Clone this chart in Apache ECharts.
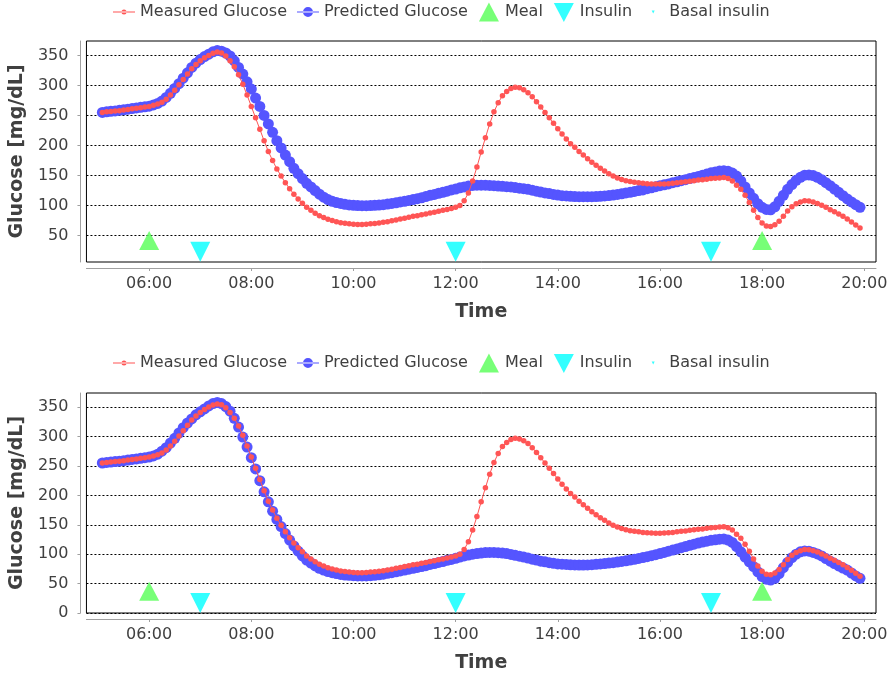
<!DOCTYPE html>
<html><head><meta charset="utf-8">
<script src="https://cdn.jsdelivr.net/npm/echarts@6/dist/echarts.min.js"></script>
<style>html,body{margin:0;padding:0;background:#fff}#c{width:893px;height:681px}</style>
</head><body><div id="c"></div>
<script>
// sampling grid of the glucose traces: 05:05 .. 19:55 every 5 minutes
const sampleStart = 5 + 5 / 60;
const sampleStepMin = 5;

const measured = [
  255,256,256.5,257.5,258,259,260,261,262,263,264,
  265,267,269,272,277,284,292,301,310,319,328,335,
  341,346,350,353.5,355.5,354,349,341,331,318,302,284,
  265,246,227,208,190,175,161,149,138,128,119,111,
  104,97,92,87,83,80,77,75,73,71.5,70.5,69.5,
  69,68.5,68.5,69,69.5,70,71,72,73,74.5,76,77.5,
  79,80.5,82,83,84.5,86,87.5,89,90.5,92,93.5,95,
  97,100,108,121,141,164,189,213,236,256,271,283,
  290,295,297,296,293,288,281,273,264,255,246,237,
  228,219,211,203,197,190,184,178,172,167,162,157.5,
  153,149,146,143.5,141.5,140,139,138,137,136.5,136,135.7,
  135.7,136,136.5,137,138,139,139.5,140.5,141.5,142.5,143,144,
  145,145.5,146,146.5,145,141,134,127,117,105,92,80,
  71,66,65,68,74,82,91,98,103,106,108,107.5,
  106,103.5,100.5,97,93,89.5,86,82,77.5,72.5,67.5,62.5
];
const predictedTop = [
  255,256,257,257.5,258.5,259.5,260.5,261.5,262.5,263.5,264.5,
  265.5,267.5,270,274,280,287,295,303,312,321,330,337,
  343,348,352,356,358,357,354,349,341,330,319,306,
  294,279,265,250,236,222,208,196,184,173,162,153,
  145,137,131,125,119,114,110,107,105,103.5,102,101,
  100.5,100,99.7,99.7,100,100.3,100.8,101.5,102.5,103.5,104.5,106,
  107,108.5,110,111.5,113,115,117,118.6,120.5,122,124,126,
  127.5,129.5,131,132.5,133.5,134,134,134,133.5,133,132.5,132,
  131.5,131,130,129,128,127,125.5,124,122.5,121,120,118.5,
  117.5,116.5,116,115.5,115,114.7,114.7,114.7,114.7,115,115.5,116,
  116.7,117.5,118.5,119.5,121,122,123.5,125,126,128,129.5,131.5,
  133,134.5,136,138,139.5,141.5,143,145,146.5,148.5,150.5,152.5,
  154.5,156,157.5,158,157,154,149,141,131,121,112,103,
  97,93.5,93,98,107,117,127,135,142,147,150.5,151,
  150,147,143,138,133,127.5,122,116.5,111,106,101.5,97
];
const predictedBottom = [
  255,256,256.5,257.5,258,259,260,261,262,263,264,
  265,267,270,275,281,289,297,306,315,323,330,337,
  342,347,352,356,358,356,351,343,331,316,299,282,
  264,245,225,206,189,173,159,147,135,124,114,105,
  97,90,85,80,76,73,70.5,68.5,67,65.5,64.5,64,
  63.5,63,63,63,63.5,64,65,66,67.5,68.5,70,71.5,
  73,74.5,76,77.5,79,80.5,82.5,84,86,87.5,89.5,91,
  93,95,97,98.5,100,101,102,102.7,103,103,102.5,101.8,
  101,99.5,98,96.5,95,93.5,91.5,90,88,87,85.5,84.5,
  83.5,83,82.5,82,81.7,81.6,81.6,81.8,82.2,82.8,83.4,84,
  84.8,85.6,86.6,87.7,88.8,90,91.3,92.7,94.2,95.8,97.5,99.2,
  101,103,105,107,109,111,113,115,117,119,120.5,122,
  123.5,124.5,125.5,126,124,120,113,104,95,87,79,70,
  62,57.5,56,59,67,77,86,94,100,104,105.5,105,
  103,100.5,97,92.5,88,84,80,76.5,73,68,63,59
];

const mealTimes = [6, 18];
const mealLevelTop = [42, 42];
const mealLevelBottom = [37, 37];
const insulinTimes = [7, 12, 17];
const insulinLevelTop = [23, 23, 23];
const insulinLevelBottom = [17, 17, 17];
const basalTimes = [];
const basalLevels = [];

const xTicks = [6, 8, 10, 12, 14, 16, 18, 20];
const yTicksTop = [50, 100, 150, 200, 250, 300, 350];
const yTicksBottom = [0, 50, 100, 150, 200, 250, 300, 350];

const seriesNames = ['Measured Glucose', 'Predicted Glucose', 'Meal', 'Insulin', 'Basal insulin'];

const FONT = 'DejaVu Sans';
const RED = '#ff5555', BLUE = '#5555ff', GREEN = '#55ff55', CYAN = '#00ffff';
const AXIS_GRAY = '#a0a0a0', TXT = '#404040';

function hhmm(h) {
  const hr = Math.floor(h + 1e-9), mn = Math.round((h - hr) * 60);
  return String(hr).padStart(2, '0') + ':' + String(mn).padStart(2, '0');
}
function timeSeries(vals) {
  return vals.map((v, i) => [sampleStart + i * sampleStepMin / 60, v]);
}
function pairs(xs, ys) { return xs.map((x, i) => [x, ys[i]]); }

const TRI_UP = 'path://M10,0L20,19L0,19z';
const TRI_DOWN = 'path://M0,0L20,0L10,20z';

function legendFor(top) {
  return {
    top: top, left: 113, padding: 0, itemGap: 10, itemWidth: 22, itemHeight: 20,
    textStyle: { fontSize: 16, fontFamily: FONT, color: TXT },
    selectedMode: false,
    data: [
      { name: seriesNames[0], icon: 'path://M0,0M22,20M0,9.5h22v1h-22zM8.5,10a2.5,2.5 0 1,0 5,0a2.5,2.5 0 1,0 -5,0z' },
      { name: seriesNames[1], icon: 'path://M0,0M22,20M0,9.5h22v1h-22zM6,10a5,5 0 1,0 10,0a5,5 0 1,0 -10,0z' },
      { name: seriesNames[2], icon: 'path://M0,0M22,20M11,0.5L21,19.5L1,19.5z' },
      { name: seriesNames[3], icon: 'path://M0,0M22,20M1,1L21,1L11,20z' },
      { name: seriesNames[4], icon: 'path://M0,0M22,20M9.5,8.5L12.5,8.5L11,11.5z' }
    ]
  };
}

function xAxisFor(idx) {
  return {
    gridIndex: idx, type: 'value', min: 4.772, max: 20.23, splitNumber: 8, offset: 6,
    axisLine: { show: true, onZero: false, lineStyle: { color: AXIS_GRAY, width: 1 } },
    axisTick: { show: true, length: 3, customValues: xTicks, lineStyle: { color: AXIS_GRAY } },
    axisLabel: { customValues: xTicks, showMinLabel: true, showMaxLabel: true, formatter: hhmm,
      color: TXT, fontSize: 16, fontFamily: FONT, margin: 8 },
    splitLine: { show: false },
    name: 'Time', nameLocation: 'middle', nameGap: 35,
    nameTextStyle: { fontSize: 19, fontWeight: 'bold', fontFamily: FONT, color: TXT }
  };
}
function yAxisFor(idx, min, ticks) {
  return {
    gridIndex: idx, type: 'value', min: min, max: 374, splitNumber: 7, offset: 6,
    axisLine: { show: true, onZero: false, lineStyle: { color: AXIS_GRAY, width: 1 } },
    axisTick: { show: true, length: 3, customValues: ticks, lineStyle: { color: AXIS_GRAY } },
    axisLabel: { customValues: ticks, showMinLabel: true, showMaxLabel: true,
      color: TXT, fontSize: 16, fontFamily: FONT, margin: 12 },
    splitLine: { show: true, lineStyle: { color: '#000', width: 1, type: [2, 2] } },
    name: 'Glucose [mg/dL]', nameLocation: 'middle', nameGap: 48, nameRotate: 90,
    nameTextStyle: { fontSize: 19, fontWeight: 'bold', fontFamily: FONT, color: TXT }
  };
}
function seriesFor(idx, predicted, mealLv, insLv) {
  return [
    { name: seriesNames[1], type: 'line', xAxisIndex: idx, yAxisIndex: idx, data: timeSeries(predicted),
      symbol: 'circle', symbolSize: 11, showSymbol: true, showAllSymbol: true,
      itemStyle: { color: BLUE, borderWidth: 0 }, lineStyle: { color: BLUE, width: 1 }, z: 2 },
    { name: seriesNames[0], type: 'line', xAxisIndex: idx, yAxisIndex: idx, data: timeSeries(measured),
      symbol: 'circle', symbolSize: 5.5, showSymbol: true, showAllSymbol: true,
      itemStyle: { color: RED, borderWidth: 0 }, lineStyle: { color: RED, width: 1 }, z: 3 },
    { name: seriesNames[2], type: 'scatter', xAxisIndex: idx, yAxisIndex: idx, data: pairs(mealTimes, mealLv),
      symbol: TRI_UP, symbolSize: [20, 19], itemStyle: { color: GREEN }, z: 4 },
    { name: seriesNames[3], type: 'scatter', xAxisIndex: idx, yAxisIndex: idx, data: pairs(insulinTimes, insLv),
      symbol: TRI_DOWN, symbolSize: [20, 20], itemStyle: { color: CYAN }, z: 4 },
    { name: seriesNames[4], type: 'scatter', xAxisIndex: idx, yAxisIndex: idx, data: pairs(basalTimes, basalLevels),
      symbol: TRI_DOWN, symbolSize: [4, 4], itemStyle: { color: CYAN }, z: 4 }
  ];
}

const chart = echarts.init(document.getElementById('c'), null, { renderer: 'canvas' });
chart.setOption({
  animation: false,
  backgroundColor: '#ffffff',
  legend: [legendFor(2), legendFor(353)],
  grid: [
    { left: 83, right: 17, top: 41, height: 221, show: true, borderColor: '#000', borderWidth: 1, backgroundColor: '#fff' },
    { left: 83, right: 17, top: 393, height: 220, show: true, borderColor: '#000', borderWidth: 1, backgroundColor: '#fff' }
  ],
  xAxis: [xAxisFor(0), xAxisFor(1)],
  yAxis: [yAxisFor(0, 6, yTicksTop), yAxisFor(1, 0, yTicksBottom)],
  series: [].concat(
    seriesFor(0, predictedTop, mealLevelTop, insulinLevelTop),
    seriesFor(1, predictedBottom, mealLevelBottom, insulinLevelBottom)
  )
});
</script>
</body></html>
